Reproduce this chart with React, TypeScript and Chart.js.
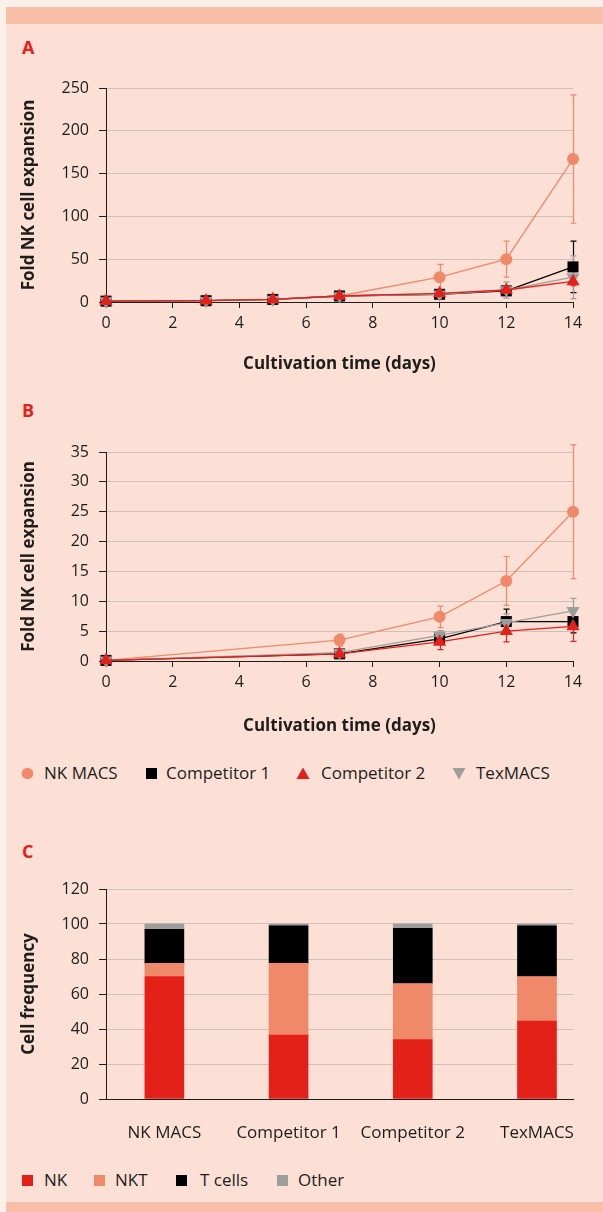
import { useEffect, useRef } from "react";
import { Chart, registerables } from "chart.js";

Chart.register(...registerables);

// ---------- data ----------
const seriesNames = ["NK MACS", "Competitor 1", "Competitor 2", "TexMACS"];

const daysA = [0, 3, 5, 7, 10, 12, 14];
const nkMacsA = [1, 1.5, 3, 7, 29, 50, 167];
const nkMacsAErr = [0, 0, 0, 1, 15, 21, 75];
const comp1A = [1, 1.5, 3, 7, 9, 13, 41];
const comp1AErr = [0, 0, 0, 1, 2, 4, 30];
const comp2A = [1, 1.5, 3, 7, 10, 14, 24];
const comp2AErr = [0, 0, 0, 1, 2, 3, 5];
const texA = [1, 1.5, 3, 7, 9, 14, 29];
const texAErr = [0, 0, 0, 1, 3, 9.5, 25];

const daysB = [0, 7, 10, 12, 14];
const nkMacsB = [0.1, 3.5, 7.4, 13.4, 25];
const nkMacsBErr = [0, 1, 1.8, 4.1, 11.2];
const comp1B = [0.1, 1.2, 3.7, 6.6, 6.6];
const comp1BErr = [0, 0.3, 0.6, 2.1, 1.9];
const comp2B = [0.1, 1.2, 3.2, 5.0, 5.8];
const comp2BErr = [0, 0.3, 1.3, 1.8, 2.5];
const texB = [0.1, 1.4, 4.3, 6.4, 8.4];
const texBErr = [0, 0.3, 0.8, 1.5, 2.1];

const xTicksDays = [0, 2, 4, 6, 8, 10, 12, 14];
const yTicksA = [0, 50, 100, 150, 200, 250];
const yTicksB = [0, 5, 10, 15, 20, 25, 30, 35];
const yTicksC = [0, 20, 40, 60, 80, 100, 120];

const categoriesC = ["NK MACS", "Competitor 1", "Competitor 2", "TexMACS"];
const cellTypes = ["NK", "NKT", "T cells", "Other"];
const nkC = [70, 36.5, 34, 44.5];
const nktC = [7.5, 41, 32, 25.5];
const tcellsC = [19.5, 21.5, 31.5, 29];
const otherC = [3, 1, 2.5, 1];

// ---------- styles ----------
const FONT = "'Open Sans', sans-serif";
const TEXT = "#1d1d1b";
const GRID = "#cdc1bc";
const SALMON = "#f0886a";
const RED = "#e3211b";
const GRAY = "#9d9d9c";
const BLACK = "#000000";
const seriesColors = [SALMON, BLACK, RED, GRAY];
const cellColors = ["#e42119", "#f0886a", "#000000", "#9d9d9c"];

const errorBarPlugin = {
  id: "errorBars",
  beforeDatasetsDraw(chart: any) {
    const ctx = chart.ctx;
    const xs = chart.scales.x;
    const ys = chart.scales.y;
    const sets = chart.data.datasets.map((d: any, i: number) => ({ d, i }));
    sets.sort((a: any, b: any) => (b.d.order || 0) - (a.d.order || 0));
    sets.forEach(({ d }: any) => {
      const errs: number[] = d.errors;
      if (!errs) return;
      ctx.save();
      ctx.strokeStyle = d.borderColor;
      ctx.lineWidth = 1.2;
      d.data.forEach((p: any, j: number) => {
        const e = errs[j];
        if (!e) return;
        const x = Math.round(xs.getPixelForValue(p.x)) + 0.5;
        const y1 = ys.getPixelForValue(p.y + e);
        const y2 = ys.getPixelForValue(Math.max(0, p.y - e));
        ctx.beginPath();
        ctx.moveTo(x, y1);
        ctx.lineTo(x, y2);
        ctx.moveTo(x - 3, y1);
        ctx.lineTo(x + 3, y1);
        ctx.moveTo(x - 3, y2);
        ctx.lineTo(x + 3, y2);
        ctx.stroke();
      });
      ctx.restore();
    });
  },
};

const styles = [
  { pointStyle: "circle", r: 6, rot: 0, order: 4 },
  { pointStyle: "rect", r: 7.8, rot: 0, order: 3 },
  { pointStyle: "triangle", r: 7.6, rot: 0, order: 1 },
  { pointStyle: "triangle", r: 7.6, rot: 180, order: 2 },
];

function lineSets(days: number[], vals: number[][], errs: number[][]) {
  return vals.map((v, k) => ({
    label: seriesNames[k],
    data: days.map((d, i) => ({ x: d, y: v[i] })),
    errors: errs[k],
    borderColor: seriesColors[k],
    backgroundColor: seriesColors[k],
    pointBackgroundColor: seriesColors[k],
    pointBorderColor: seriesColors[k],
    borderWidth: 1.3,
    pointBorderWidth: 0,
    pointStyle: styles[k].pointStyle,
    pointRadius: styles[k].r,
    pointRotation: styles[k].rot,
    order: styles[k].order,
    clip: false,
    tension: 0,
  }));
}

function lineOptions(yMax: number, yTicks: number[], xAxisHeight: number, padTop: number) {
  return {
    responsive: false,
    animation: false,
    events: [],
    layout: { padding: { top: padTop, right: 30, left: 0, bottom: 0 } },
    plugins: { legend: { display: false }, tooltip: { enabled: false } },
    scales: {
      x: {
        type: "linear",
        min: 0,
        max: 14,
        afterBuildTicks: (s: any) => {
          s.ticks = xTicksDays.map((v) => ({ value: v }));
        },
        afterFit: (s: any) => {
          s.height = xAxisHeight;
        },
        grid: { drawOnChartArea: false, tickLength: 6, tickColor: TEXT, tickWidth: 1 },
        border: { color: TEXT, width: 1 },
        ticks: { color: TEXT, font: { family: FONT, size: 16 }, padding: 6, maxRotation: 0 },
        title: {
          display: true,
          text: "Cultivation time (days)",
          color: TEXT,
          font: { family: FONT, size: 17, weight: "bold" },
          padding: { top: 0, bottom: 6 },
        },
      },
      y: {
        min: 0,
        max: yMax,
        afterBuildTicks: (s: any) => {
          s.ticks = yTicks.map((v) => ({ value: v }));
        },
        afterFit: (s: any) => {
          s.width = 106;
        },
        grid: { color: GRID, lineWidth: 1, tickLength: 7, tickColor: TEXT, tickWidth: 1 },
        border: { color: TEXT, width: 1 },
        ticks: { color: TEXT, font: { family: FONT, size: 16 }, padding: 10 },
        title: {
          display: true,
          text: "Fold NK cell expansion",
          color: TEXT,
          font: { family: FONT, size: 17, weight: "bold" },
          padding: { top: 19, bottom: 0 },
        },
      },
    },
  };
}

function Marker({ kind, color }: { kind: string; color: string }) {
  if (kind === "circle")
    return (
      <svg width="13" height="13" style={{ position: "absolute", left: 0, top: 4 }}>
        <circle cx="6.5" cy="6.5" r="5.8" fill={color} />
      </svg>
    );
  if (kind === "rect")
    return (
      <svg width="13" height="13" style={{ position: "absolute", left: 0, top: 4 }}>
        <rect x="1" y="1" width="11" height="11" fill={color} />
      </svg>
    );
  if (kind === "up")
    return (
      <svg width="14" height="13" style={{ position: "absolute", left: 0, top: 4 }}>
        <polygon points="7,0.5 13.5,12 0.5,12" fill={color} />
      </svg>
    );
  return (
    <svg width="14" height="13" style={{ position: "absolute", left: 0, top: 4 }}>
      <polygon points="0.5,1 13.5,1 7,12.5" fill={color} />
    </svg>
  );
}

const legendBKinds = ["circle", "rect", "up", "down"];
const legendBLeft = [21, 145, 296, 452];
const legendBTextGap = [23, 21, 25, 24];
const legendCLeft = [21, 93, 175, 276];
const legendCTextGap = [23, 22, 25, 22];

export default function App() {
  const refA = useRef<HTMLCanvasElement>(null);
  const refB = useRef<HTMLCanvasElement>(null);
  const refC = useRef<HTMLCanvasElement>(null);

  useEffect(() => {
    const charts: Chart[] = [];
    charts.push(
      new Chart(refA.current as HTMLCanvasElement, {
        type: "line",
        data: {
          datasets: lineSets(daysA, [nkMacsA, comp1A, comp2A, texA], [nkMacsAErr, comp1AErr, comp2AErr, texAErr]) as any,
        },
        options: lineOptions(250, yTicksA, 78, 28) as any,
        plugins: [errorBarPlugin],
      })
    );
    charts.push(
      new Chart(refB.current as HTMLCanvasElement, {
        type: "line",
        data: {
          datasets: lineSets(daysB, [nkMacsB, comp1B, comp2B, texB], [nkMacsBErr, comp1BErr, comp2BErr, texBErr]) as any,
        },
        options: lineOptions(35, yTicksB, 81, 32) as any,
        plugins: [errorBarPlugin],
      })
    );
    const cVals = [nkC, nktC, tcellsC, otherC];
    charts.push(
      new Chart(refC.current as HTMLCanvasElement, {
        type: "bar",
        data: {
          datasets: cVals.map((vals, k) => ({
            label: cellTypes[k],
            data: vals.map((v, i) => ({ x: i, y: v })),
            backgroundColor: cellColors[k],
            borderWidth: 0,
            barThickness: 39,
          })) as any,
        },
        options: {
          responsive: false,
          animation: false,
          events: [],
          layout: { padding: { top: 29, right: 30, left: 0, bottom: 0 } },
          plugins: { legend: { display: false }, tooltip: { enabled: false } },
          scales: {
            x: {
              type: "linear",
              stacked: true,
              offset: false,
              min: -0.47,
              max: 3.29,
              afterBuildTicks: (s: any) => {
                s.ticks = categoriesC.map((_, i) => ({ value: i }));
              },
              afterFit: (s: any) => {
                s.height = 61;
              },
              grid: { display: true, drawOnChartArea: false, drawTicks: false, offset: false },
              border: { color: TEXT, width: 1 },
              ticks: {
                color: TEXT,
                font: { family: FONT, size: 17 },
                padding: 24,
                maxRotation: 0,
                autoSkip: false,
                callback: (v: any) => categoriesC[Math.round(v)] ?? "",
              },
            },
            y: {
              stacked: true,
              min: 0,
              max: 120,
              afterBuildTicks: (s: any) => {
                s.ticks = yTicksC.map((v) => ({ value: v }));
              },
              afterFit: (s: any) => {
                s.width = 106;
              },
              grid: { color: GRID, lineWidth: 1, tickLength: 7, tickColor: TEXT, tickWidth: 1 },
              border: { color: TEXT, width: 1 },
              ticks: { color: TEXT, font: { family: FONT, size: 16 }, padding: 10 },
              title: {
                display: true,
                text: "Cell frequency",
                color: TEXT,
                font: { family: FONT, size: 17, weight: "bold" },
                padding: { top: 19, bottom: 0 },
              },
            },
          },
        } as any,
      })
    );
    return () => charts.forEach((c) => c.destroy());
  }, []);

  const panelLabel = (t: string, top: number) => (
    <div
      style={{
        position: "absolute",
        left: 22,
        top,
        fontFamily: FONT,
        fontWeight: 700,
        fontSize: 18,
        lineHeight: "20px",
        color: RED,
      }}
    >
      {t}
    </div>
  );

  const textStyle: any = {
    position: "absolute",
    top: 0,
    fontFamily: FONT,
    fontSize: 17,
    lineHeight: "20px",
    color: TEXT,
    whiteSpace: "nowrap",
  };

  return (
    <div
      style={{
        position: "absolute",
        left: 0,
        top: 0,
        width: 603,
        height: 1212,
        background: "#fdf0ea",
        overflow: "hidden",
      }}
    >
      <div style={{ position: "absolute", left: 6, top: 7, width: 597, height: 1205, background: "#fce0d5" }} />
      <div style={{ position: "absolute", left: 6, top: 7, width: 597, height: 17, background: "#f8bea8" }} />
      <div style={{ position: "absolute", left: 6, top: 1202, width: 597, height: 10, background: "#f8bea8" }} />

      {panelLabel("A", 37)}
      {panelLabel("B", 400)}
      {panelLabel("C", 841)}

      <canvas ref={refA} width={603} height={320} style={{ position: "absolute", left: 0, top: 60 }} />
      <canvas ref={refB} width={603} height={322} style={{ position: "absolute", left: 0, top: 420 }} />
      <canvas ref={refC} width={603} height={300} style={{ position: "absolute", left: 0, top: 860 }} />

      <div style={{ position: "absolute", left: 0, top: 763, width: 603, height: 20 }}>
        {seriesNames.map((name, k) => (
          <div key={name} style={{ position: "absolute", left: legendBLeft[k], top: 0, height: 20 }}>
            <Marker kind={legendBKinds[k]} color={seriesColors[k]} />
            <span style={{ ...textStyle, left: legendBTextGap[k] }}>{name}</span>
          </div>
        ))}
      </div>

      <div style={{ position: "absolute", left: 0, top: 1170, width: 603, height: 20 }}>
        {cellTypes.map((name, k) => (
          <div key={name} style={{ position: "absolute", left: legendCLeft[k], top: 0, height: 20 }}>
            <Marker kind="rect" color={cellColors[k]} />
            <span style={{ ...textStyle, left: legendCTextGap[k] }}>{name}</span>
          </div>
        ))}
      </div>
    </div>
  );
}
